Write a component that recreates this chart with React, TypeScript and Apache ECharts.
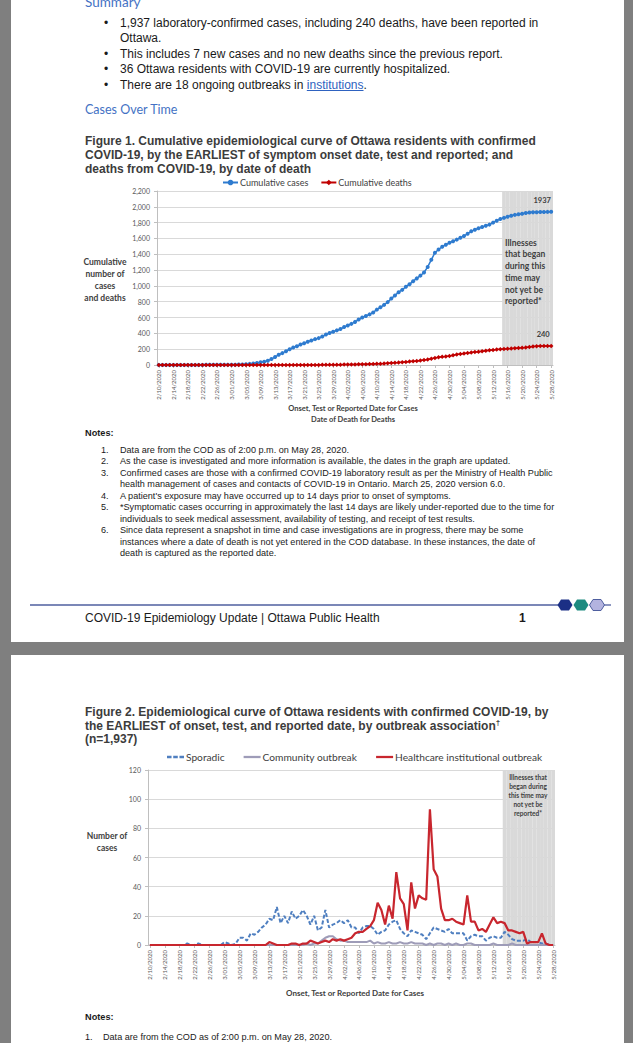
import React, { useEffect, useRef } from "react";
import * as echarts from "echarts";

// ---------- DATA ----------
const monthRanges: [number, number, number][] = [
  [2, 10, 29],
  [3, 1, 31],
  [4, 1, 30],
  [5, 1, 28],
];
const dates: string[] = [];
for (const [m, a, b] of monthRanges)
  for (let d = a; d <= b; d++) dates.push(`${m}/${String(d).padStart(2, "0")}/2020`);

const cumulativeCases: number[] = [
  0, 0, 0, 0, 0, 0, 0, 0, 0, 0,
  1, 1, 1, 2, 2, 2, 2, 2, 2, 2,
  3, 4, 5, 6, 10, 14, 18, 25, 34, 42,
  55, 75, 100, 130, 150, 175, 200, 220, 238, 258,
  276, 293, 310, 327, 340, 360, 385, 405, 420, 438,
  455, 480, 500, 520, 545, 575, 600, 620, 640, 665,
  700, 730, 760, 795, 840, 880, 920, 950, 990, 1020,
  1060, 1095, 1130, 1170, 1240, 1330, 1420, 1460, 1495, 1520,
  1545, 1565, 1585, 1610, 1630, 1660, 1690, 1710, 1730, 1745,
  1760, 1775, 1800, 1825, 1845, 1860, 1875, 1888, 1898, 1906,
  1913, 1922, 1927, 1930, 1932, 1934, 1935, 1936, 1937,
];
const cumulativeDeaths: number[] = [
  0, 0, 0, 0, 0, 0, 0, 0, 0, 0,
  0, 0, 0, 0, 0, 0, 0, 0, 0, 0,
  0, 0, 0, 0, 0, 0, 0, 0, 0, 0,
  0, 0, 0, 0, 0, 0, 0, 0, 0, 0,
  0, 0, 0, 1, 1, 2, 2, 2, 3, 3,
  4, 5, 5, 6, 7, 8, 9, 10, 12, 13,
  15, 17, 19, 22, 25, 28, 31, 35, 39, 43,
  47, 51, 56, 62, 70, 80, 90, 97, 103, 108,
  115, 124, 132, 140, 146, 152, 158, 163, 168, 174,
  180, 186, 191, 196, 200, 203, 206, 208, 211, 214,
  217, 222, 228, 233, 237, 239, 240, 240, 240,
];
const sporadic: number[] = [
  0, 0, 0, 0, 0, 0, 0, 0, 0, 0,
  1, 0, 0, 1, 0, 0, 0, 0, 0, 0,
  2, 1, 0, 1, 5, 5, 3, 8, 7, 9,
  12, 14, 18, 17, 26, 15, 20, 15, 23, 18,
  20, 24, 20, 14, 20, 10, 12, 24, 12, 14,
  15, 17, 15, 17, 12, 12, 8, 12, 13, 13,
  11, 7, 9, 10, 14, 16, 17, 11, 8, 6,
  10, 9, 8, 7, 4, 8, 12, 11, 10, 9,
  11, 8, 8, 8, 8, 3, 6, 7, 6, 6,
  3, 5, 6, 5, 5, 9, 7, 4, 3, 3,
  3, 4, 2, 2, 2, 1, 1, 0, 0,
];
const community: number[] = [
  0, 0, 0, 0, 0, 0, 0, 0, 0, 0,
  0, 0, 0, 0, 0, 0, 0, 0, 0, 0,
  0, 0, 0, 0, 0, 0, 0, 0, 0, 0,
  0, 0, 0, 0, 0, 0, 0, 0, 0, 0,
  0, 0, 1, 0, 1, 1, 3, 5, 6, 6,
  4, 3, 3, 2, 2, 2, 2, 2, 2, 3,
  1, 2, 1, 1, 2, 1, 1, 2, 1, 1,
  2, 1, 1, 1, 0, 1, 0, 1, 1, 0,
  1, 0, 1, 0, 0, 1, 1, 0, 0, 0,
  0, 0, 1, 0, 0, 0, 0, 1, 0, 0,
  0, 0, 0, 0, 0, 0, 0, 0, 0,
];
const healthcare: number[] = [
  0, 0, 0, 0, 0, 0, 0, 0, 0, 0,
  0, 0, 0, 0, 0, 0, 0, 0, 0, 0,
  0, 0, 0, 0, 0, 0, 0, 0, 0, 0,
  0, 0, 2, 1, 0, 0, 0, 0, 1, 1,
  0, 1, 1, 3, 2, 1, 2, 3, 2, 4,
  3, 4, 3, 4, 5, 8, 9, 9, 11, 13,
  17, 29, 24, 14, 27, 18, 50, 32, 28, 10,
  43, 25, 34, 32, 31, 93, 52, 47, 25, 17,
  17, 18, 16, 15, 14, 34, 16, 16, 10, 11,
  9, 14, 19, 15, 16, 15, 10, 10, 9, 8,
  9, 1, 2, 2, 2, 8, 1, 0, 0,
];
const fig1Y = { min: 0, max: 2200, interval: 200 };
const fig2Y = { min: 0, max: 120, interval: 20 };
const shadeFrom = "5/15/2020";

// ---------- STYLE ----------
const CHART_FONT = "Lato, 'Liberation Sans', sans-serif";
const DOC_FONT = "'Liberation Sans', Arial, sans-serif";
const AXIS_GREY = "#BFBFBF";
const GRID_GREY = "#D9D9D9";
const LABEL_GREY = "#595959";
const TITLE_GREY = "#404040";
const LINE_ICON = "path://M0,0L30,0L30,4L0,4Z";
const DASH_ICON = "path://M0,0L8,0L8,4L0,4Z M11,0L19,0L19,4L11,4Z M22,0L30,0L30,4L22,4Z";

const shadeIdx = dates.indexOf(shadeFrom);
const shadeData = (max: number) => dates.map((_, i) => (i >= shadeIdx ? max : null));

const xAxisBase = (margin: number) => ({
  type: "category",
  data: dates,
  boundaryGap: true,
  axisLine: { show: true, lineStyle: { color: AXIS_GREY } },
  axisTick: { show: true, interval: 3, alignWithLabel: true, length: 3, lineStyle: { color: AXIS_GREY } },
  axisLabel: { interval: 3, rotate: 90, fontSize: 6, color: LABEL_GREY, margin, fontFamily: CHART_FONT },
  splitLine: { show: false },
});

const yAxisBase = (cfg: { min: number; max: number; interval: number }, withComma: boolean) => ({
  type: "value",
  min: cfg.min,
  max: cfg.max,
  interval: cfg.interval,
  axisLine: { show: true, lineStyle: { color: AXIS_GREY } },
  axisTick: { show: true, length: 3, lineStyle: { color: AXIS_GREY } },
  axisLabel: {
    fontSize: 7,
    color: LABEL_GREY,
    margin: 7,
    fontFamily: CHART_FONT,
    formatter: (v: number) => (withComma ? v.toLocaleString("en-US") : String(v)),
  },
  splitLine: { show: true, lineStyle: { color: GRID_GREY, width: 1 } },
});

const lastLabel = (arr: number[], offset: [number, number]) =>
  arr.map((v, i) =>
    i === arr.length - 1
      ? {
          value: v,
          label: {
            show: true,
            position: "top",
            offset,
            fontSize: 7.5,
            fontWeight: "bold",
            color: TITLE_GREY,
            fontFamily: CHART_FONT,
          },
        }
      : v
  );

const option1: any = {
  animation: false,
  textStyle: { fontFamily: CHART_FONT },
  grid: { left: 157, right: 80, top: 16, height: 174 },
  legend: {
    data: ["Cumulative cases", "Cumulative deaths"],
    left: 222,
    top: 3,
    padding: 0,
    itemWidth: 15,
    itemHeight: 7,
    itemGap: 12,
    textStyle: { fontSize: 9, color: TITLE_GREY, fontFamily: CHART_FONT, padding: [0, 0, 0, -3] },
  },
  xAxis: xAxisBase(5),
  yAxis: yAxisBase(fig1Y, true),
  series: [
    {
      name: "shade",
      type: "bar",
      data: shadeData(fig1Y.max),
      barWidth: "100%",
      barCategoryGap: "0%",
      itemStyle: { color: GRID_GREY },
      silent: true,
      z: 1,
    },
    {
      name: "Cumulative cases",
      type: "line",
      data: lastLabel(cumulativeCases, [-9, 0]),
      symbol: "circle",
      symbolSize: 4,
      showAllSymbol: true,
      itemStyle: { color: "#2E7BCF" },
      lineStyle: { color: "#2E7BCF", width: 1.5 },
      z: 3,
    },
    {
      name: "Cumulative deaths",
      type: "line",
      data: lastLabel(cumulativeDeaths, [-8, 0]),
      symbol: "diamond",
      symbolSize: 4.5,
      showAllSymbol: true,
      itemStyle: { color: "#C00000" },
      lineStyle: { color: "#C00000", width: 1.5 },
      z: 4,
    },
  ],
  graphic: [
    {
      type: "text",
      x: 105,
      y: 105,
      style: {
        text: "Cumulative\nnumber of\ncases\nand deaths",
        fill: TITLE_GREY,
        font: `bold 8.5px ${CHART_FONT}`,
        textAlign: "center",
        textVerticalAlign: "middle",
        lineHeight: 12,
      },
    },
    {
      type: "text",
      x: 353,
      y: 238.5,
      style: {
        text: "Onset, Test or Reported Date for Cases\nDate of Death for Deaths",
        fill: TITLE_GREY,
        font: `bold 7.5px ${CHART_FONT}`,
        textAlign: "center",
        textVerticalAlign: "middle",
        lineHeight: 11,
      },
    },
    {
      type: "text",
      x: 505,
      y: 97,
      z: 10,
      style: {
        text: "Illnesses\nthat began\nduring this\ntime may\nnot yet be\nreported*",
        fill: TITLE_GREY,
        font: `bold 8.5px ${CHART_FONT}`,
        textAlign: "left",
        textVerticalAlign: "middle",
        lineHeight: 11.7,
      },
    },
  ],
};

const option2: any = {
  animation: false,
  textStyle: { fontFamily: CHART_FONT },
  grid: { left: 148, right: 78, top: 25, height: 175 },
  legend: {
    data: [
      { name: "Sporadic", icon: DASH_ICON },
      { name: "Community outbreak", icon: LINE_ICON },
      { name: "Healthcare institutional outbreak", icon: LINE_ICON },
    ],
    left: 167,
    top: 7,
    padding: 0,
    itemWidth: 17,
    itemHeight: 2.5,
    itemGap: 19,
    textStyle: { fontSize: 10.2, color: TITLE_GREY, fontFamily: CHART_FONT, padding: [0, 0, 0, -3] },
  },
  xAxis: xAxisBase(5),
  yAxis: yAxisBase(fig2Y, false),
  series: [
    {
      name: "shade",
      type: "bar",
      data: shadeData(fig2Y.max),
      barWidth: "100%",
      barCategoryGap: "0%",
      itemStyle: { color: GRID_GREY },
      silent: true,
      z: 1,
    },
    {
      name: "Sporadic",
      type: "line",
      data: sporadic,
      symbol: "none",
      itemStyle: { color: "#4F7FC0" },
      lineStyle: { color: "#4F7FC0", width: 2, type: [4, 2] },
      z: 3,
    },
    {
      name: "Community outbreak",
      type: "line",
      data: community,
      symbol: "none",
      itemStyle: { color: "#9E9CB8" },
      lineStyle: { color: "#9E9CB8", width: 2 },
      z: 4,
    },
    {
      name: "Healthcare institutional outbreak",
      type: "line",
      data: healthcare.map((v) =>
        v === Math.max(...healthcare)
          ? {
              value: v,
              label: { show: true, position: "top", formatter: "§", fontSize: 7, color: LABEL_GREY, distance: 2 },
            }
          : v
      ),
      symbol: "none",
      itemStyle: { color: "#C8262E" },
      lineStyle: { color: "#C8262E", width: 2.2 },
      z: 5,
    },
  ],
  graphic: [
    {
      type: "text",
      x: 107,
      y: 97,
      style: {
        text: "Number of\ncases",
        fill: TITLE_GREY,
        font: `bold 8.5px ${CHART_FONT}`,
        textAlign: "center",
        textVerticalAlign: "middle",
        lineHeight: 12,
      },
    },
    {
      type: "text",
      x: 355,
      y: 248,
      style: {
        text: "Onset, Test or Reported Date for Cases",
        fill: TITLE_GREY,
        font: `bold 8px ${CHART_FONT}`,
        textAlign: "center",
        textVerticalAlign: "middle",
      },
    },
    {
      type: "text",
      x: 528,
      y: 50.5,
      z: 10,
      style: {
        text: "Illnesses that\nbegan during\nthis time may\nnot yet be\nreported*",
        fill: TITLE_GREY,
        font: `bold 6.5px ${CHART_FONT}`,
        textAlign: "center",
        textVerticalAlign: "middle",
        lineHeight: 8.8,
      },
    },
  ],
};

// ---------- COMPONENTS ----------
function EChart({ option, style }: { option: any; style: React.CSSProperties }) {
  const ref = useRef<HTMLDivElement>(null);
  useEffect(() => {
    const chart = echarts.init(ref.current as HTMLDivElement, null, { renderer: "svg" });
    chart.setOption(option);
    return () => chart.dispose();
  }, [option]);
  return <div ref={ref} style={style} />;
}

function Txt({
  x,
  y,
  size,
  bold,
  color,
  family,
  children,
}: {
  x: number;
  y: number;
  size: number;
  bold?: boolean;
  color?: string;
  family?: string;
  children: React.ReactNode;
}) {
  return (
    <div
      style={{
        position: "absolute",
        left: x,
        top: y - size,
        lineHeight: `${size * 2}px`,
        fontSize: size,
        fontWeight: bold ? 700 : 400,
        color: color || "#1A1A1A",
        fontFamily: family || DOC_FONT,
        whiteSpace: "nowrap",
      }}
    >
      {children}
    </div>
  );
}

const bulletLines: { y: number; bullet: boolean; text: React.ReactNode }[] = [
  { y: 22.5, bullet: true, text: "1,937 laboratory-confirmed cases, including 240 deaths, have been reported in" },
  { y: 38, bullet: false, text: "Ottawa." },
  { y: 53.5, bullet: true, text: "This includes 7 new cases and no new deaths since the previous report." },
  { y: 69, bullet: true, text: "36 Ottawa residents with COVID-19 are currently hospitalized." },
  {
    y: 84.5,
    bullet: true,
    text: (
      <>
        There are 18 ongoing outbreaks in{" "}
        <span style={{ color: "#2E62C0", textDecoration: "underline" }}>institutions</span>.
      </>
    ),
  },
];

const noteLines: { num?: string; text: string }[] = [
  { num: "1.", text: "Data are from the COD as of 2:00 p.m. on May 28, 2020." },
  { num: "2.", text: "As the case is investigated and more information is available, the dates in the graph are updated." },
  { num: "3.", text: "Confirmed cases are those with a confirmed COVID-19 laboratory result as per the Ministry of Health Public" },
  { text: "health management of cases and contacts of COVID-19 in Ontario. March 25, 2020 version 6.0." },
  { num: "4.", text: "A patient's exposure may have occurred up to 14 days prior to onset of symptoms." },
  { num: "5.", text: "*Symptomatic cases occurring in approximately the last 14 days are likely under-reported due to the time for" },
  { text: "individuals to seek medical assessment, availability of testing, and receipt of test results." },
  { num: "6.", text: "Since data represent a snapshot in time and case investigations are in progress, there may be some" },
  { text: "instances where a date of death is not yet entered in the COD database. In these instances, the date of" },
  { text: "death is captured as the reported date." },
];

export default function App() {
  const hex = (cx: number, cy: number) =>
    `${cx - 7.5},${cy} ${cx - 4},${cy - 5.5} ${cx + 4},${cy - 5.5} ${cx + 7.5},${cy} ${cx + 4},${cy + 5.5} ${cx - 4},${cy + 5.5}`;
  return (
    <div
      style={{
        position: "absolute",
        left: 0,
        top: 0,
        width: 633,
        height: 1043,
        background: "#7F7F7F",
        overflow: "hidden",
      }}
    >
      {/* pages */}
      <div style={{ position: "absolute", left: 11, top: -10, width: 613, height: 652, background: "#FFFFFF" }} />
      <div style={{ position: "absolute", left: 11, top: 655, width: 613, height: 400, background: "#FFFFFF" }} />

      {/* page 1 text */}
      <Txt x={85} y={2} size={13.5} color="#4472C4" family={CHART_FONT}>
        Summary
      </Txt>
      {bulletLines.map((l, i) => (
        <React.Fragment key={i}>
          {l.bullet && (
            <Txt x={104} y={l.y} size={12}>
              •
            </Txt>
          )}
          <Txt x={120} y={l.y} size={12}>
            {l.text}
          </Txt>
        </React.Fragment>
      ))}
      <Txt x={85} y={109.5} size={12.5} color="#4472C4" family={CHART_FONT}>
        Cases Over Time
      </Txt>
      <Txt x={85} y={141} size={12} bold color="#3C3C3C">
        Figure 1. Cumulative epidemiological curve of Ottawa residents with confirmed
      </Txt>
      <Txt x={85} y={155} size={12} bold color="#3C3C3C">
        COVID-19, by the EARLIEST of symptom onset date, test and reported; and
      </Txt>
      <Txt x={85} y={169} size={12} bold color="#3C3C3C">
        deaths from COVID-19, by date of death
      </Txt>

      <EChart option={option1} style={{ position: "absolute", left: 0, top: 175, width: 633, height: 260 }} />

      <Txt x={85} y={433} size={9.2} bold>
        Notes:
      </Txt>
      {noteLines.map((l, i) => (
        <React.Fragment key={i}>
          {l.num && (
            <Txt x={101} y={450 + i * 11.5} size={9.1}>
              {l.num}
            </Txt>
          )}
          <Txt x={120} y={450 + i * 11.5} size={9.1}>
            {l.text}
          </Txt>
        </React.Fragment>
      ))}

      {/* footer */}
      <svg style={{ position: "absolute", left: 0, top: 595 }} width={633} height={20}>
        <line x1={30} y1={10} x2={558} y2={10} stroke="#4F5F9F" strokeWidth={1.3} />
        <line x1={604} y1={10} x2={611} y2={10} stroke="#4F5F9F" strokeWidth={1.3} />
        <polygon points={hex(565, 10)} fill="#1B2F85" />
        <polygon points={hex(581, 10)} fill="#1E8B80" />
        <polygon points={hex(597, 10)} fill="#B3B3DF" stroke="#4F5F9F" strokeWidth={1} />
      </svg>
      <Txt x={85} y={618} size={12}>
        COVID-19 Epidemiology Update | Ottawa Public Health
      </Txt>
      <Txt x={519} y={618} size={12} bold>
        1
      </Txt>

      {/* page 2 text */}
      <Txt x={85} y={712} size={12} bold color="#3C3C3C">
        Figure 2. Epidemiological curve of Ottawa residents with confirmed COVID-19, by
      </Txt>
      <Txt x={85} y={725.5} size={12} bold color="#3C3C3C">
        <>
          the EARLIEST of onset, test, and reported date, by outbreak association
          <span style={{ fontSize: 8, verticalAlign: "super", lineHeight: 0 }}>†</span>
        </>
      </Txt>
      <Txt x={85} y={739} size={12} bold color="#3C3C3C">
        (n=1,937)
      </Txt>

      <EChart option={option2} style={{ position: "absolute", left: 0, top: 745, width: 633, height: 260 }} />

      <Txt x={85} y={1017} size={9.2} bold>
        Notes:
      </Txt>
      <Txt x={85} y={1037} size={9.1}>
        1.
      </Txt>
      <Txt x={103} y={1037} size={9.1}>
        Data are from the COD as of 2:00 p.m. on May 28, 2020.
      </Txt>
    </div>
  );
}
